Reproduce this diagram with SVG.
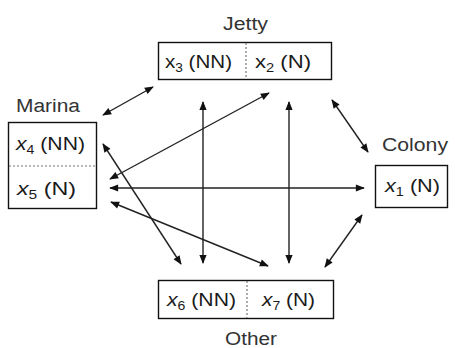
<svg xmlns="http://www.w3.org/2000/svg" width="455" height="348" viewBox="0 0 455 348">
<style>
text{font-family:"Liberation Sans",Arial,sans-serif;font-size:18px;fill:#1a1a1a}
.lbl{fill:#333}
.it{font-style:italic}
.sub{font-size:12px}
.box{fill:#fff;stroke:#111;stroke-width:1.4}
.div{stroke:#777;stroke-width:1.2;stroke-dasharray:2,2}
.c line{stroke:#222;stroke-width:1.4;marker-start:url(#a);marker-end:url(#a)}
</style>
<defs>
<marker id="a" viewBox="0 0 10 10" refX="9" refY="5" markerWidth="10" markerHeight="9" markerUnits="userSpaceOnUse" orient="auto-start-reverse">
<path d="M0,1 L10,5 L0,9 z" fill="#111"/>
</marker>
</defs>
<rect width="455" height="348" fill="#fff"/>
<g class="c" id="connectors">
<line x1="103" y1="115" x2="153" y2="87"/>
<line x1="269" y1="93" x2="110" y2="179"/>
<line x1="203" y1="102" x2="203" y2="263"/>
<line x1="289" y1="102" x2="289" y2="263"/>
<line x1="110" y1="188" x2="364" y2="188"/>
<line x1="103" y1="144" x2="181" y2="264"/>
<line x1="111" y1="202" x2="268" y2="266"/>
<line x1="332" y1="100" x2="368" y2="152"/>
<line x1="362" y1="215" x2="325" y2="267"/>
</g>
<g id="jetty">
<rect class="box" x="158.5" y="42.5" width="173" height="37"/>
<line class="div" x1="246" y1="43" x2="246" y2="79"/>
<text x="165" y="68" textLength="67" lengthAdjust="spacingAndGlyphs">x<tspan class="sub" dy="4">3</tspan><tspan dy="-4"> (NN)</tspan></text>
<text x="255" y="68" textLength="56" lengthAdjust="spacingAndGlyphs">x<tspan class="sub" dy="4">2</tspan><tspan dy="-4"> (N)</tspan></text>
<text class="lbl" x="223" y="30" textLength="45" lengthAdjust="spacingAndGlyphs">Jetty</text>
</g>
<g id="marina">
<rect class="box" x="8.5" y="122.5" width="88" height="86"/>
<line class="div" x1="9" y1="166" x2="96" y2="166"/>
<text x="16" y="150" textLength="69" lengthAdjust="spacingAndGlyphs"><tspan class="it">x</tspan><tspan class="sub" dy="4">4</tspan><tspan dy="-4"> (NN)</tspan></text>
<text x="17" y="195" textLength="59" lengthAdjust="spacingAndGlyphs"><tspan class="it">x</tspan><tspan class="sub" dy="4">5</tspan><tspan dy="-4"> (N)</tspan></text>
<text class="lbl" x="16" y="112" textLength="64" lengthAdjust="spacingAndGlyphs">Marina</text>
</g>
<g id="colony">
<rect class="box" x="375.5" y="165.5" width="72" height="42"/>
<text x="385" y="192" textLength="55" lengthAdjust="spacingAndGlyphs"><tspan class="it">x</tspan><tspan class="sub" dy="4">1</tspan><tspan dy="-4"> (N)</tspan></text>
<text class="lbl" x="382" y="151" textLength="66" lengthAdjust="spacingAndGlyphs">Colony</text>
</g>
<g id="other">
<rect class="box" x="158.5" y="280.5" width="175" height="38"/>
<line class="div" x1="247" y1="281" x2="247" y2="318"/>
<text x="167" y="306" textLength="69" lengthAdjust="spacingAndGlyphs"><tspan class="it">x</tspan><tspan class="sub" dy="4">6</tspan><tspan dy="-4"> (NN)</tspan></text>
<text x="262" y="306" textLength="53" lengthAdjust="spacingAndGlyphs"><tspan class="it">x</tspan><tspan class="sub" dy="4">7</tspan><tspan dy="-4"> (N)</tspan></text>
<text class="lbl" x="225" y="345" textLength="52" lengthAdjust="spacingAndGlyphs">Other</text>
</g>
</svg>
